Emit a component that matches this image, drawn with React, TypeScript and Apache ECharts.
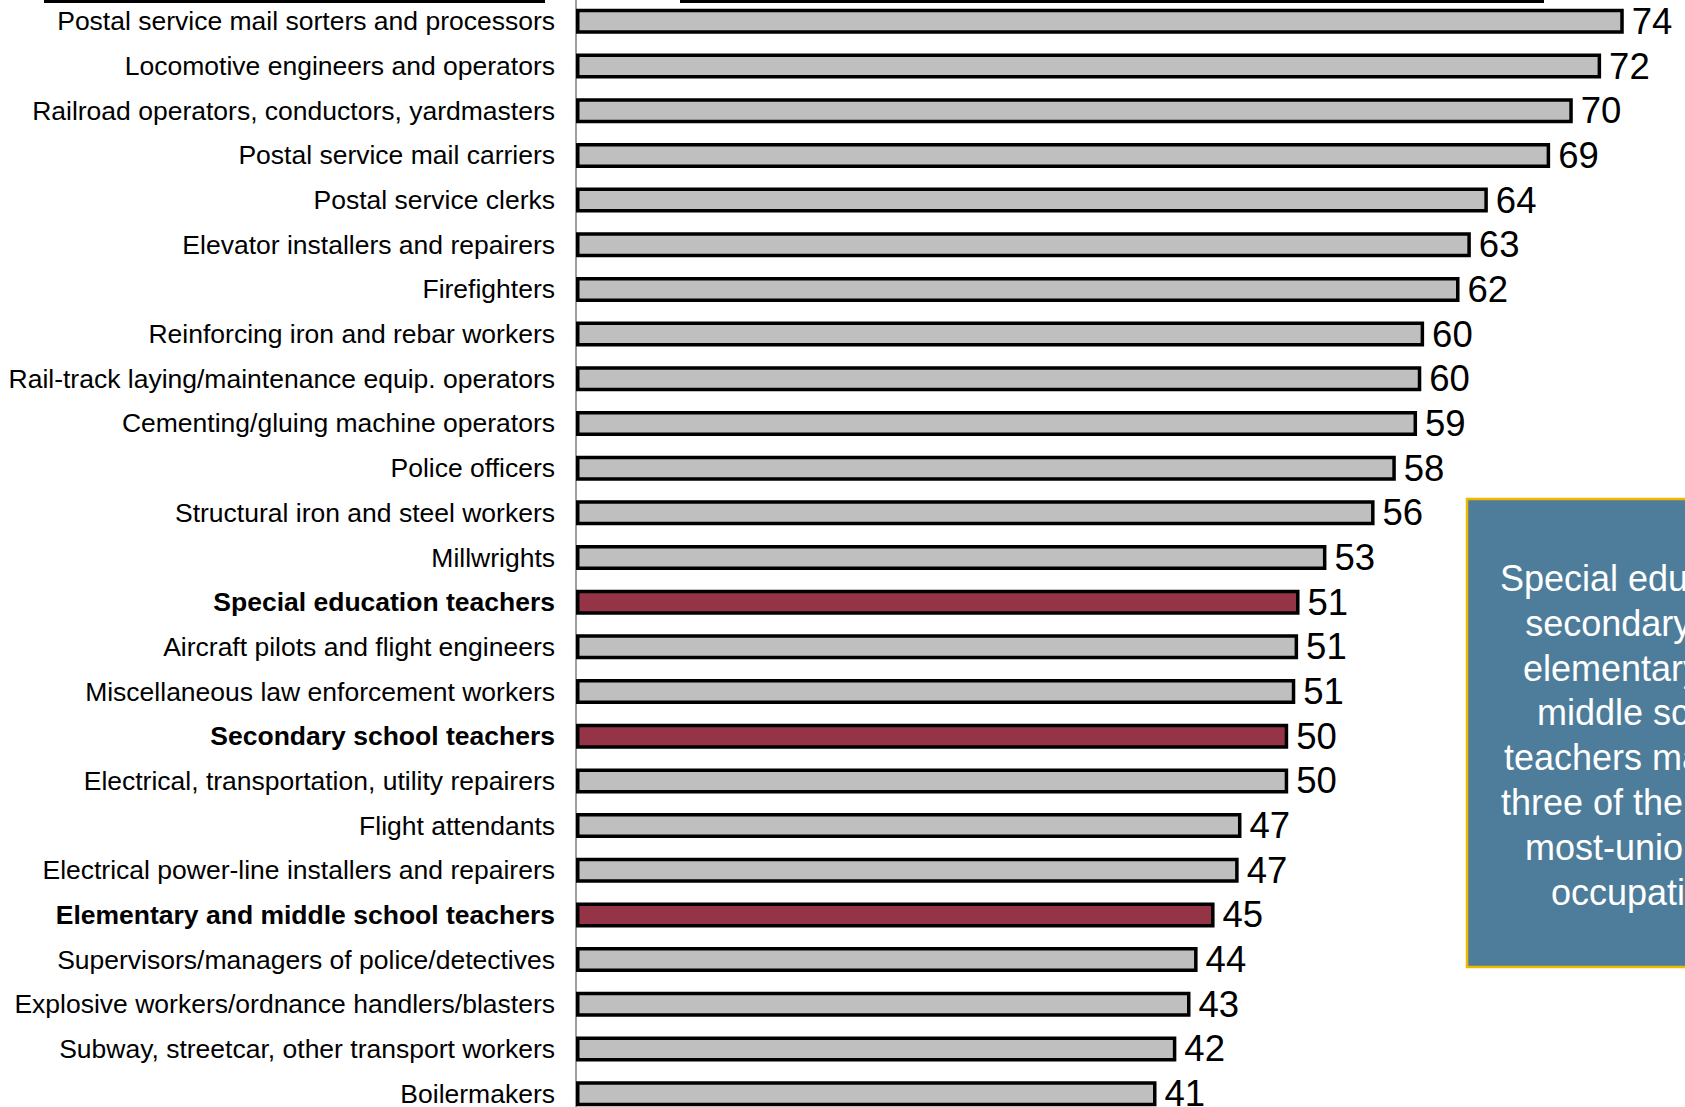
import React, { useEffect, useRef } from "react";
import * as echarts from "echarts";

const occupations = [
  "Postal service mail sorters and processors",
  "Locomotive engineers and operators",
  "Railroad operators, conductors, yardmasters",
  "Postal service mail carriers",
  "Postal service clerks",
  "Elevator installers and repairers",
  "Firefighters",
  "Reinforcing iron and rebar workers",
  "Rail-track laying/maintenance equip. operators",
  "Cementing/gluing machine operators",
  "Police officers",
  "Structural iron and steel workers",
  "Millwrights",
  "Special education teachers",
  "Aircraft pilots and flight engineers",
  "Miscellaneous law enforcement workers",
  "Secondary school teachers",
  "Electrical, transportation, utility repairers",
  "Flight attendants",
  "Electrical power-line installers and repairers",
  "Elementary and middle school teachers",
  "Supervisors/managers of police/detectives",
  "Explosive workers/ordnance handlers/blasters",
  "Subway, streetcar, other transport workers",
  "Boilermakers",
];

const unionShare = [
  74.0, 72.4, 70.4, 68.8, 64.4, 63.2, 62.4, 59.9, 59.7, 59.4, 57.9, 56.4, 53.0,
  51.1, 51.0, 50.8, 50.3, 50.3, 47.0, 46.8, 45.1, 43.9, 43.4, 42.4, 41.0,
];

const teacherOccupations = [
  "Special education teachers",
  "Secondary school teachers",
  "Elementary and middle school teachers",
];

const calloutLines = [
  "Special education,",
  "secondary, and",
  "elementary and",
  "middle school",
  "teachers make up",
  "three of the top 25",
  "most-unionized",
  "occupations",
];

const FONT = "'Liberation Sans', Arial, Helvetica, sans-serif";

export default function App() {
  const ref = useRef<HTMLDivElement>(null);

  useEffect(() => {
    if (!ref.current) return;
    const chart = echarts.init(ref.current, null, { renderer: "svg" });

    const data = unionShare.map((v, i) => {
      const teacher = teacherOccupations.includes(occupations[i]);
      return {
        value: v,
        itemStyle: {
          color: teacher ? "#943446" : "#bfbfbf",
          borderColor: "#000000",
          borderWidth: 3.5,
        },
      };
    });

    chart.setOption({
      animation: false,
      backgroundColor: "#ffffff",
      grid: {
        left: 576,
        right: 4.6,
        top: -1,
        height: 1117,
        containLabel: false,
        outerBoundsMode: "none",
      },
      xAxis: {
        type: "value",
        min: 0,
        max: 78,
        show: false,
      },
      yAxis: {
        type: "category",
        inverse: true,
        data: occupations,
        axisLine: { show: true, lineStyle: { color: "#7f7f7f", width: 1.5 } },
        axisTick: { show: false },
        axisLabel: {
          margin: 21,
          fontFamily: FONT,
          fontSize: 26.5,
          color: "#000000",
          formatter: (v: string) =>
            teacherOccupations.includes(v) ? `{b|${v}}` : `{n|${v}}`,
          rich: {
            n: { fontFamily: FONT, fontSize: 26.5, color: "#000000" },
            b: { fontFamily: FONT, fontSize: 26.5, color: "#000000", fontWeight: "bold" },
          },
        },
        splitLine: { show: false },
      },
      series: [
        {
          type: "bar",
          data,
          barWidth: 25,
          label: {
            show: true,
            position: "right",
            distance: 8,
            fontFamily: FONT,
            fontSize: 36.5,
            color: "#000000",
            formatter: (p: any) => String(Math.round(p.value)),
          },
        },
      ],
      graphic: [
        {
          type: "rect",
          shape: { x: 44, y: 0, width: 501, height: 3 },
          style: { fill: "#000000" },
        },
        {
          type: "rect",
          shape: { x: 680, y: 0, width: 864, height: 3 },
          style: { fill: "#000000" },
        },
        {
          type: "rect",
          shape: { x: 1467, y: 499, width: 360, height: 468 },
          style: { fill: "#4d7d9b", stroke: "#f2b800", lineWidth: 2.5 },
          z: 10,
        },
        {
          type: "text",
          x: 1647,
          y: 556,
          z: 11,
          style: {
            text: calloutLines.join("\n"),
            fill: "#ffffff",
            fontFamily: FONT,
            fontSize: 36,
            lineHeight: 44.8,
            align: "center",
            verticalAlign: "top",
          },
        },
      ],
    });

    return () => chart.dispose();
  }, []);

  return (
    <div
      ref={ref}
      style={{ position: "absolute", left: 0, top: 0, width: 1685, height: 1107 }}
    />
  );
}
